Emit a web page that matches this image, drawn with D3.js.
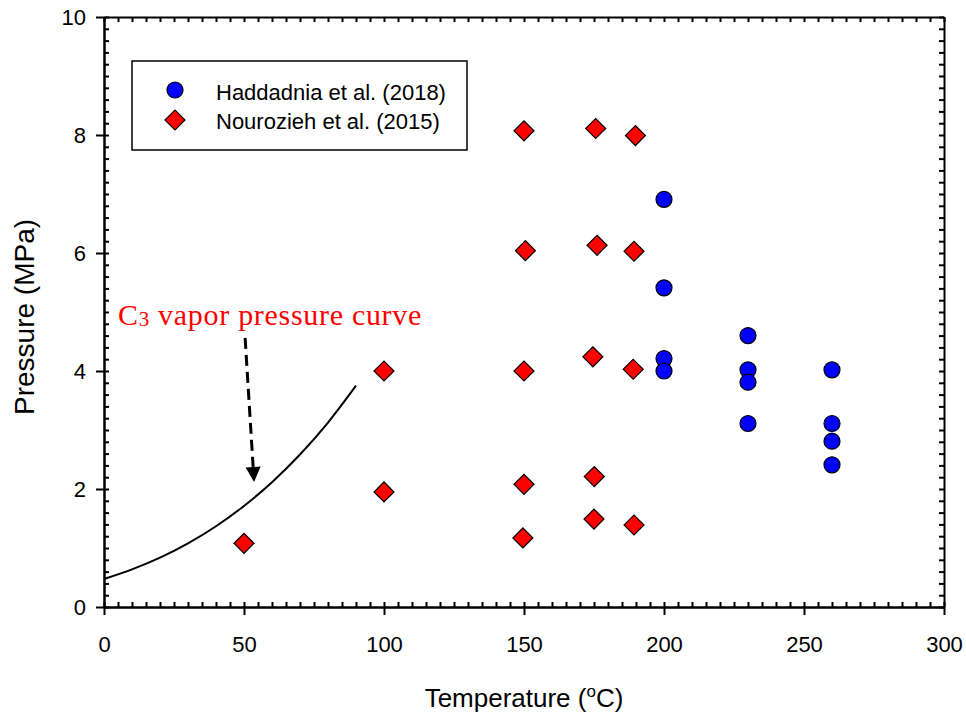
<!DOCTYPE html>
<html>
<head>
<meta charset="utf-8">
<script src="https://cdn.jsdelivr.net/npm/d3@7"></script>
<style>
  html, body { margin: 0; padding: 0; background: #fff; }
  svg { display: block; }
</style>
</head>
<body>
<svg id="chart" width="966" height="717"></svg>
<script>
// Haddadnia et al. (2018) measurements
const haddadniaT = [200, 200, 200, 200, 230, 230, 230, 230, 260, 260, 260, 260];
const haddadniaP = [6.91, 5.41, 4.21, 4.00, 4.60, 4.02, 3.81, 3.11, 4.02, 3.11, 2.81, 2.41];

// Nourozieh et al. (2015) measurements
const nouroziehT = [50, 100, 100, 150, 150.5, 150, 150, 149.6, 175.6, 176.1, 174.6, 175.1, 175.0, 189.8, 189.3, 189.0, 189.3];
const nouroziehP = [1.08, 4.00, 1.95, 8.07, 6.04, 4.00, 2.08, 1.17, 8.11, 6.13, 4.24, 2.21, 1.49, 7.99, 6.03, 4.03, 1.39];

// Propane (C3) saturation pressure
const vaporT = [0, 10, 20, 30, 40, 50, 60, 70, 80, 90];
const vaporP = [0.474, 0.637, 0.836, 1.079, 1.369, 1.713, 2.116, 2.585, 3.127, 3.752];

// Axis ticks
const xTicks = [0, 50, 100, 150, 200, 250, 300];
const yTicks = [0, 2, 4, 6, 8, 10];

// Legend entries
const seriesNames = ["Haddadnia et al. (2018)", "Nourozieh et al. (2015)"];

// Annotation: arrow from label toward the curve (data coordinates)
const arrowFrom = [50.4, 4.56];
const arrowTo = [53.6, 2.12];

const svg = d3.select("#chart");
const margin = { left: 104, top: 17, right: 22, bottom: 110 };
const W = 966, H = 717;
const x = d3.scaleLinear().domain([0, 300]).range([margin.left, W - margin.right]);
const y = d3.scaleLinear().domain([0, 10]).range([H - margin.bottom, margin.top]);

const sans = "Arial, 'Liberation Sans', sans-serif";
const serif = "'Times New Roman', 'Liberation Serif', serif";

const xMinor = d3.range(0, 300.01, 5);
const yMinor = d3.range(0, 10.001, 0.2).map(v => +v.toFixed(2));

function styleAxis(g) {
  g.selectAll("path.domain").attr("stroke", "#000").attr("stroke-width", 2);
  g.selectAll(".tick line").attr("stroke", "#000").attr("stroke-width", 2);
  g.selectAll(".tick text").attr("font-family", sans).attr("font-size", 22).attr("fill", "#000");
}

// Bottom: minor ticks inward, major ticks outward with labels
svg.append("g").attr("transform", `translate(0,${y(0)})`)
  .call(d3.axisBottom(x).tickValues(xMinor).tickSize(-5).tickFormat("").tickSizeOuter(0))
  .call(styleAxis);
svg.append("g").attr("transform", `translate(0,${y(0)})`)
  .call(d3.axisBottom(x).tickValues(xTicks).tickSize(8).tickPadding(21).tickFormat(d3.format("d")).tickSizeOuter(0))
  .call(styleAxis);

// Left
svg.append("g").attr("transform", `translate(${x(0)},0)`)
  .call(d3.axisLeft(y).tickValues(yMinor).tickSize(-5).tickFormat("").tickSizeOuter(0))
  .call(styleAxis);
svg.append("g").attr("transform", `translate(${x(0)},0)`)
  .call(d3.axisLeft(y).tickValues(yTicks).tickSize(8).tickPadding(10).tickFormat(d3.format("d")).tickSizeOuter(0))
  .call(styleAxis);

// Top and right: inward ticks only
svg.append("g").attr("transform", `translate(0,${y(10)})`)
  .call(d3.axisTop(x).tickValues(xMinor).tickSize(-5).tickFormat("").tickSizeOuter(0))
  .call(styleAxis);
svg.append("g").attr("transform", `translate(${x(300)},0)`)
  .call(d3.axisRight(y).tickValues(yMinor).tickSize(-5).tickFormat("").tickSizeOuter(0))
  .call(styleAxis);

// Axis titles
const xt = svg.append("text")
  .attr("x", 524).attr("y", 707)
  .attr("text-anchor", "middle")
  .attr("font-family", sans).attr("font-size", 26).attr("fill", "#000");
xt.append("tspan").text("Temperature (");
xt.append("tspan").attr("font-size", 17).attr("dy", -10).text("o");
xt.append("tspan").attr("dy", 10).text("C)");

svg.append("text")
  .attr("transform", `translate(34,317) rotate(-90)`)
  .attr("text-anchor", "middle")
  .attr("font-family", sans).attr("font-size", 28).attr("fill", "#000")
  .text("Pressure (MPa)");

// Vapor pressure curve
const line = d3.line().x((d, i) => x(vaporT[i])).y((d, i) => y(vaporP[i])).curve(d3.curveMonotoneX);
svg.append("path")
  .datum(vaporT)
  .attr("d", line)
  .attr("fill", "none").attr("stroke", "#000").attr("stroke-width", 2);

// Markers
const diamond = d3.symbol().type(d3.symbolSquare).size(200);
svg.append("g").selectAll("path")
  .data(nouroziehT)
  .join("path")
  .attr("d", diamond)
  .attr("transform", (d, i) => `translate(${x(d)},${y(nouroziehP[i])}) rotate(45)`)
  .attr("fill", "#ff0000").attr("stroke", "#000").attr("stroke-width", 1.2);

svg.append("g").selectAll("circle")
  .data(haddadniaT)
  .join("circle")
  .attr("cx", d => x(d))
  .attr("cy", (d, i) => y(haddadniaP[i]))
  .attr("r", 8)
  .attr("fill", "#0000ff").attr("stroke", "#000").attr("stroke-width", 1.2);

// Annotation label
const ann = svg.append("text")
  .attr("x", 118).attr("y", 325)
  .attr("font-family", serif).attr("font-size", 30).attr("letter-spacing", 0.7).attr("fill", "#ff0000");
ann.append("tspan").text("C");
ann.append("tspan").attr("font-size", 21).attr("dy", 1).text("3");
ann.append("tspan").attr("dy", -1).text(" vapor pressure curve");

// Dashed arrow
const ax0 = x(arrowFrom[0]), ay0 = y(arrowFrom[1]);
const ax1 = x(arrowTo[0]), ay1 = y(arrowTo[1]);
const ang = Math.atan2(ay1 - ay0, ax1 - ax0);
const headLen = 15, headHalf = 7.5;
const bx = ax1 - headLen * Math.cos(ang), by = ay1 - headLen * Math.sin(ang);
svg.append("line")
  .attr("x1", ax0).attr("y1", ay0).attr("x2", bx).attr("y2", by)
  .attr("stroke", "#000").attr("stroke-width", 3).attr("stroke-dasharray", "11,6");
svg.append("path")
  .attr("d", `M${ax1},${ay1} L${bx - headHalf * Math.sin(ang)},${by + headHalf * Math.cos(ang)} L${bx + headHalf * Math.sin(ang)},${by - headHalf * Math.cos(ang)} Z`)
  .attr("fill", "#000");

// Legend
const lg = svg.append("g");
lg.append("rect")
  .attr("x", 132).attr("y", 61).attr("width", 335).attr("height", 89)
  .attr("fill", "#fff").attr("stroke", "#000").attr("stroke-width", 1.5);
lg.append("circle").attr("cx", 175).attr("cy", 90).attr("r", 8)
  .attr("fill", "#0000ff").attr("stroke", "#000").attr("stroke-width", 1.2);
lg.append("path").attr("d", diamond).attr("transform", "translate(175,120) rotate(45)")
  .attr("fill", "#ff0000").attr("stroke", "#000").attr("stroke-width", 1.2);
lg.selectAll("text.lbl")
  .data(seriesNames)
  .join("text")
  .attr("class", "lbl")
  .attr("x", 216).attr("y", (d, i) => 99.5 + i * 29.5)
  .attr("font-family", sans).attr("font-size", 22).attr("fill", "#000")
  .text(d => d);
</script>
</body>
</html>
